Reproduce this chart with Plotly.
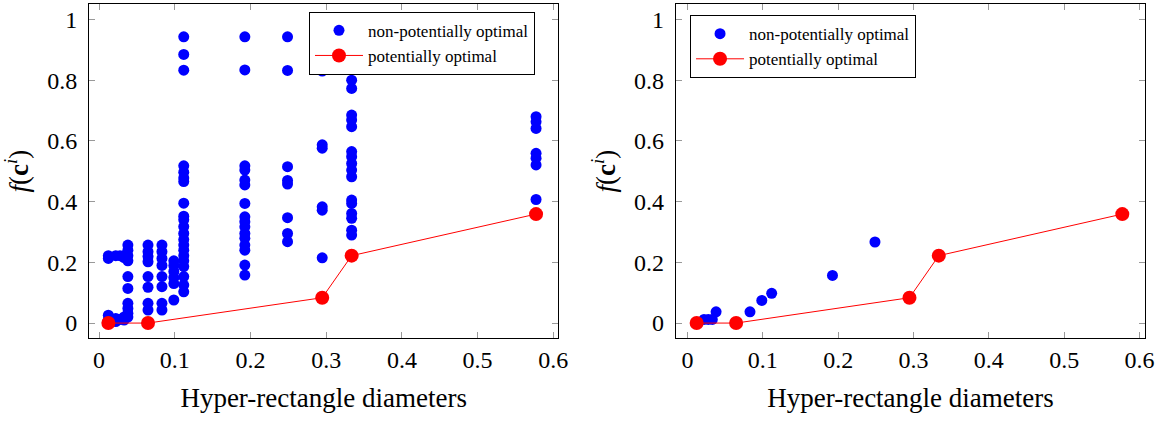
import plotly.graph_objects as go

# ---- data ----
left_cols_d = [0.0122, 0.022, 0.0276, 0.033, 0.038, 0.0646, 0.083, 0.0987,
               0.1118, 0.1925, 0.2489, 0.2947, 0.3336, 0.5772]
left_cols_f = [
    [0.222, 0.213, 0.026, 0.012],
    [0.222, 0.015, 0.005],
    [0.222, 0.012],
    [0.222, 0.216, 0.02, 0.01],
    [0.257, 0.24, 0.222, 0.205, 0.153, 0.114, 0.065, 0.048, 0.032, 0.02],
    [0.257, 0.235, 0.219, 0.202, 0.153, 0.118, 0.065, 0.043],
    [0.257, 0.235, 0.213, 0.19, 0.153, 0.12, 0.065, 0.043],
    [0.205, 0.19, 0.17, 0.15, 0.13, 0.076],
    [0.943, 0.885, 0.833, 0.518, 0.497, 0.478, 0.466, 0.395, 0.352, 0.340,
     0.318, 0.295, 0.275, 0.257, 0.240, 0.222, 0.205, 0.186, 0.153, 0.125, 0.103],
    [0.943, 0.834, 0.518, 0.504, 0.471, 0.455, 0.394, 0.35, 0.334, 0.317,
     0.295, 0.279, 0.257, 0.24, 0.191, 0.158],
    [0.943, 0.832, 0.515, 0.47, 0.458, 0.347, 0.295, 0.268],
    [0.83, 0.587, 0.576, 0.383, 0.372, 0.215],
    [0.80, 0.773, 0.685, 0.669, 0.647, 0.565, 0.548, 0.526, 0.504, 0.482,
     0.405, 0.394, 0.361, 0.345, 0.306, 0.29],
    [0.68, 0.663, 0.641, 0.559, 0.543, 0.521, 0.407],
]

po_d = [0.0122, 0.0646, 0.2947, 0.3336, 0.5772]
po_f = [0.0, 0.0, 0.0835, 0.222, 0.359]

right_np_d = [0.022, 0.0276, 0.033, 0.038, 0.083, 0.0987, 0.1118, 0.1925, 0.2489]
right_np_f = [0.012, 0.012, 0.012, 0.037, 0.037, 0.0747, 0.098, 0.157, 0.267]

x_ticks = [0, 0.1, 0.2, 0.3, 0.4, 0.5, 0.6]
y_ticks = [0, 0.2, 0.4, 0.6, 0.8, 1]
x_title = "Hyper-rectangle diameters"
y_title = "<i>f</i>(<b>c</b><sup><i>i</i></sup>)"
name_np = "non-potentially optimal"
name_po = "potentially optimal"

left_np_d = [d for d, fs in zip(left_cols_d, left_cols_f) for _ in fs]
left_np_f = [f for fs in left_cols_f for f in fs]

BLUE = "#0000ff"
RED = "#ff0000"
SERIF = "Liberation Serif"

fig = go.Figure()

fig.add_trace(go.Scatter(x=left_np_d, y=left_np_f, mode="markers", name=name_np,
                         marker=dict(color=BLUE, size=11), xaxis="x", yaxis="y",
                         legend="legend"))
fig.add_trace(go.Scatter(x=po_d, y=po_f, mode="lines+markers", name=name_po,
                         marker=dict(color=RED, size=14), line=dict(color=RED, width=1),
                         xaxis="x", yaxis="y", legend="legend"))
fig.add_trace(go.Scatter(x=right_np_d, y=right_np_f, mode="markers", name=name_np,
                         marker=dict(color=BLUE, size=11), xaxis="x2", yaxis="y2",
                         legend="legend2"))
fig.add_trace(go.Scatter(x=po_d, y=po_f, mode="lines+markers", name=name_po,
                         marker=dict(color=RED, size=14), line=dict(color=RED, width=1),
                         xaxis="x2", yaxis="y2", legend="legend2"))

axis_common = dict(showline=True, linecolor="black", linewidth=1.2, mirror="ticks",
                   ticks="inside", ticklen=6, tickcolor="#999999", showgrid=False,
                   zeroline=False, tickfont=dict(family=SERIF, size=24, color="black"))

xcommon = dict(axis_common, tickvals=x_ticks, ticktext=[f"{v:g}" for v in x_ticks],
               title=dict(text=x_title, font=dict(family=SERIF, size=27, color="black"),
                          standoff=16))
ycommon = dict(axis_common, tickvals=y_ticks, ticktext=[f"{v:g}" for v in y_ticks],
               range=[-0.0494, 1.051], ticklabelstandoff=6,
               title=dict(text=y_title, font=dict(family=SERIF, size=27, color="black"),
                          standoff=10))

legend_common = dict(xanchor="left", yanchor="top", bgcolor="white",
                     bordercolor="black", borderwidth=1, itemwidth=48,
                     font=dict(family=SERIF, size=17, color="black"))

fig.update_layout(
    width=1176, height=421,
    margin=dict(l=0, r=0, t=0, b=0),
    paper_bgcolor="white", plot_bgcolor="white",
    xaxis=dict(xcommon, domain=[0.0765, 0.4787], range=[-0.0131, 0.6064], anchor="y"),
    yaxis=dict(ycommon, domain=[0.197, 0.9905], anchor="x"),
    xaxis2=dict(xcommon, domain=[0.5797, 0.9821], range=[-0.0153, 0.6075], anchor="y2"),
    yaxis2=dict(ycommon, domain=[0.197, 0.9905], anchor="x2"),
    legend=dict(legend_common, x=0.265, y=0.972),
    legend2=dict(legend_common, x=0.5918, y=0.964),
)

fig.write_html("out.html")
